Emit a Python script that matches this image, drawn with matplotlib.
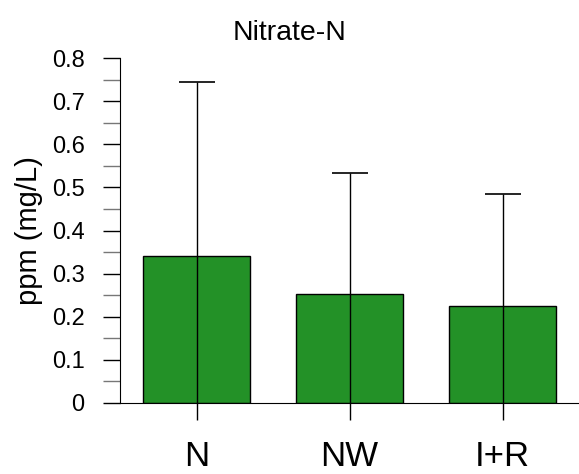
import matplotlib
matplotlib.use('Agg')
import matplotlib.pyplot as plt
from matplotlib.ticker import MultipleLocator, FuncFormatter

plt.rcParams['font.family'] = ['Liberation Sans', 'DejaVu Sans']

categories = ['N', 'NW', 'I+R']
means = [0.341, 0.253, 0.224]
upper = [0.744, 0.533, 0.484]   # top of error bars
errs = [u - m for u, m in zip(upper, means)]

fig = plt.figure(figsize=(5.79, 4.74), dpi=100)
ax = fig.add_axes([0.2073, 0.1498, 0.7927, 0.7278])

x = range(len(categories))
ax.bar(x, means, width=0.7, color='#239127', edgecolor='black', linewidth=1, zorder=2)
ax.errorbar(x, means, yerr=errs, fmt='none', ecolor='black', elinewidth=1,
            capsize=13, capthick=1.2, zorder=3)

ax.set_xlim(-0.5, 2.5)
ax.set_ylim(0, 0.8)
ax.set_xticks(list(x))
ax.set_xticklabels(categories, fontsize=25)
ax.yaxis.set_major_locator(MultipleLocator(0.1))
ax.yaxis.set_minor_locator(MultipleLocator(0.05))
ax.yaxis.set_major_formatter(FuncFormatter(lambda v, p: '0' if abs(v) < 1e-9 else '%.1f' % v))
ax.tick_params(axis='y', which='both', length=12, width=1, labelsize=17, pad=13.5)
ax.tick_params(axis='y', which='minor', color='#777777')
ax.tick_params(axis='x', length=12, width=1, pad=15)

ax.spines['top'].set_visible(False)
ax.spines['right'].set_visible(False)

ax.set_ylabel('ppm (mg/L)', fontsize=21, labelpad=6)
# title is centred on the figure, not the axes
ax.set_title('Nitrate-N', fontsize=20.5, pad=13, x=0.369)

plt.savefig('out.png', dpi=100)
